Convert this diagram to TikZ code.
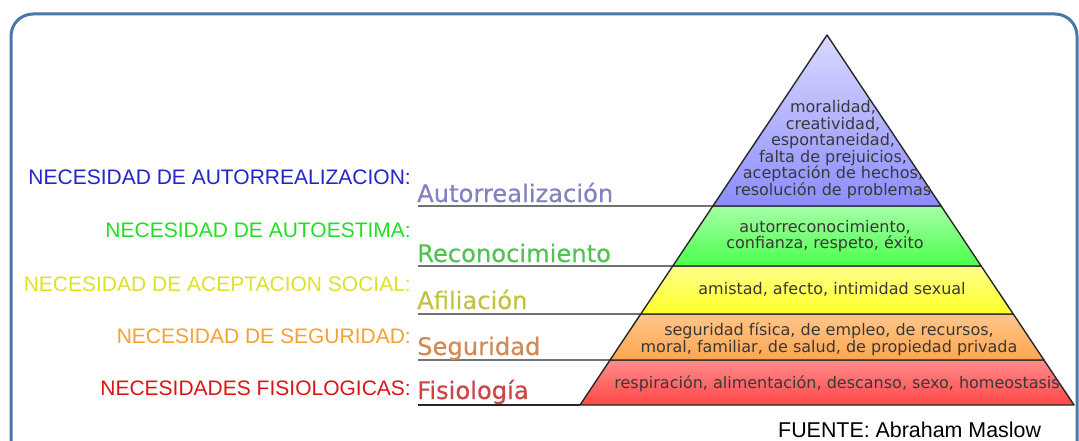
\documentclass[tikz,border=0pt]{standalone}
\usepackage{fontspec}
\setmainfont{Liberation Sans}
\newfontfamily\dejavu{DejaVu Sans}
\newfontfamily\dejavuheavy[FakeBold=0.35]{DejaVu Sans}
\usetikzlibrary{calc}

\definecolor{frameblue}{HTML}{4A77A8}
\definecolor{needblue}{HTML}{2424C8}
\definecolor{needgreen}{HTML}{22DD22}
\definecolor{needyellow}{HTML}{E0E028}
\definecolor{needorange}{HTML}{F8A030}
\definecolor{needred}{HTML}{DD1414}
\definecolor{lvlblue}{HTML}{8282C0}
\definecolor{lvlgreen}{HTML}{52C252}
\definecolor{lvlyellow}{HTML}{C2C242}
\definecolor{lvlorange}{HTML}{D28A52}
\definecolor{lvlred}{HTML}{CC4444}

\begin{document}
\begin{tikzpicture}[x=1pt,y=-1pt,
  need/.style={anchor=base east,inner sep=0pt,font=\fontsize{21}{25}\selectfont},
  level/.style={anchor=base west,inner sep=0pt,font=\dejavuheavy\fontsize{24.2}{28}\selectfont},
  inside/.style={align=center,inner sep=0pt,text=black!78,font=\dejavu\fontsize{16}{16.6}\selectfont},
  layer/.style={draw=black!85,line width=1.4pt,line join=round},
  rule/.style={draw=black!85,line width=1.4pt}]
\useasboundingbox (0,0) rectangle (1079,441);
\draw[frameblue,line width=3pt,rounded corners=22pt] (11,14) rectangle (1077,470);
\coordinate (apex) at (827,35);
\coordinate (bl) at (580,405);
\coordinate (br) at (1074,405);
\coordinate (l1) at ($(apex)!{171/370}!(bl)$);
\coordinate (r1) at ($(apex)!{171/370}!(br)$);
\coordinate (l2) at ($(apex)!{231/370}!(bl)$);
\coordinate (r2) at ($(apex)!{231/370}!(br)$);
\coordinate (l3) at ($(apex)!{279/370}!(bl)$);
\coordinate (r3) at ($(apex)!{279/370}!(br)$);
\coordinate (l4) at ($(apex)!{325/370}!(bl)$);
\coordinate (r4) at ($(apex)!{325/370}!(br)$);
\shadedraw[layer,top color=red!45,bottom color=red!72] (l4) -- (bl) -- (br) -- (r4) -- cycle;
\shadedraw[layer,top color=orange!45,bottom color=orange!70] (l3) -- (l4) -- (r4) -- (r3) -- cycle;
\shadedraw[layer,top color=yellow!45,bottom color=yellow!85] (l2) -- (l3) -- (r3) -- (r2) -- cycle;
\shadedraw[layer,top color=green!35,bottom color=green!70] (l1) -- (l2) -- (r2) -- (r1) -- cycle;
\shadedraw[layer,top color=blue!15,bottom color=blue!45] (apex) -- (l1) -- (r1) -- cycle;
\coordinate (h1) at (418,206);
\coordinate (h2) at (418,266);
\coordinate (h3) at (418,314);
\coordinate (h4) at (418,360);
\coordinate (h5) at (418,405);
\draw[rule] (h1) -- (l1);
\draw[rule] (h2) -- (l2);
\draw[rule] (h3) -- (l3);
\draw[rule] (h4) -- (l4);
\draw[rule] (h5) -- (bl);
\node[inside] (t1) at (833,149.5) {moralidad,\\creatividad,\\espontaneidad,\\falta de prejuicios,\\aceptación de hechos,\\resolución de problemas};
\node[inside] (t2) at (825,236) {autorreconocimiento,\\confianza, respeto, éxito};
\node[inside] (t3) at (832,289) {amistad, afecto, intimidad sexual};
\node[inside] (t4) at (829,339.5) {seguridad física, de empleo, de recursos,\\moral, familiar, de salud, de propiedad privada};
\node[inside] (t5) at (837,384) {respiración, alimentación, descanso, sexo, homeostasis};
\node[level,text=lvlblue] (v1) at (417,202) {Autorrealización};
\node[level,text=lvlgreen] (v2) at (417,262) {Reconocimiento};
\node[level,text=lvlyellow] (v3) at (417,309) {Afiliación};
\node[level,text=lvlorange] (v4) at (417,355) {Seguridad};
\node[level,text=lvlred] (v5) at (417,399) {Fisiología};
\node[need,text=needblue] (n1) at (411,185) {NECESIDAD DE AUTORREALIZACION:};
\node[need,text=needgreen] (n2) at (411,237) {NECESIDAD DE AUTOESTIMA:};
\node[need,text=needyellow] (n3) at (411,291) {NECESIDAD DE ACEPTACION SOCIAL:};
\node[need,text=needorange] (n4) at (411,343) {NECESIDAD DE SEGURIDAD:};
\node[need,text=needred] (n5) at (411,395) {NECESIDADES FISIOLOGICAS:};
\node[anchor=base west,inner sep=0pt,font=\fontsize{21.4}{25}\selectfont] (src) at (778,437) {FUENTE: Abraham Maslow};
\end{tikzpicture}
\end{document}
